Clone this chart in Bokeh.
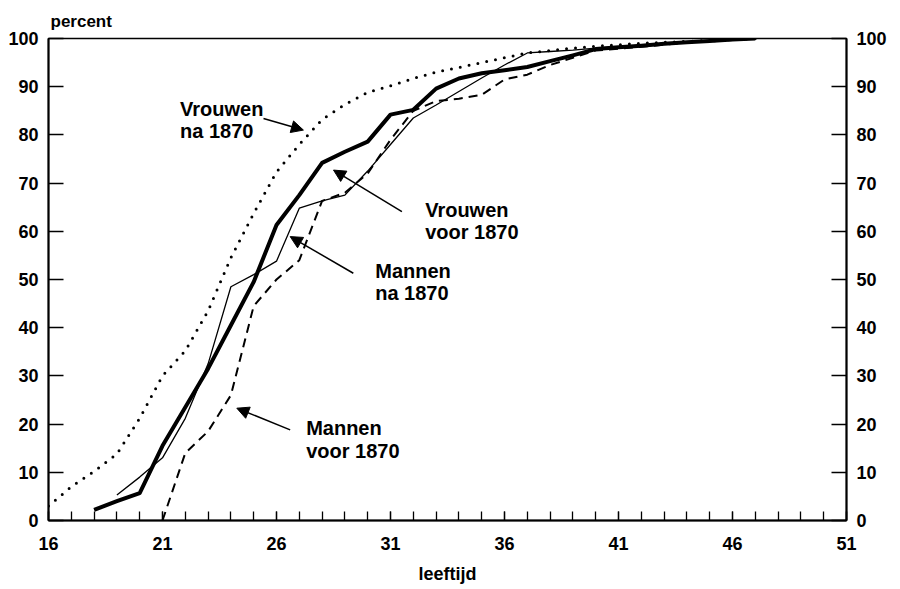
from bokeh.plotting import figure
from bokeh.models import Range1d, LinearAxis, FixedTicker, Label, Arrow, NormalHead
from bokeh.embed import file_html
from bokeh.resources import INLINE

# ---- data ----
ages_vv = [18, 19, 20, 21, 22, 23, 24, 25, 26, 27, 28, 29, 30, 31, 32, 33, 34, 35, 36, 37,
           38, 39, 40, 41, 42, 43, 44, 45, 46, 47]
vrouwen_voor = [2.2, 4.0, 5.7, 15.5, 23.5, 31.5, 40.5, 49.5, 61.3, 67.5, 74.2, 76.5, 78.6, 84.2,
                85.2, 89.6, 91.7, 92.8, 93.4, 94.1, 95.3, 96.5, 97.8, 98.2, 98.5, 98.9, 99.2,
                99.5, 99.8, 100.0]

ages_mn = [19, 20, 21, 22, 23, 24, 25, 26, 27, 28, 29, 30, 31, 32, 33, 34, 35, 36, 37, 38,
           39, 40, 41, 42, 43, 44, 45, 46, 47]
mannen_na = [5.3, 9.0, 13.0, 21.2, 32.5, 48.5, 51.0, 53.8, 64.8, 66.3, 67.5, 72.5, 78.0, 83.5,
             86.2, 89.0, 91.8, 94.5, 97.0, 97.3, 97.6, 98.0, 98.3, 98.6, 98.9, 99.2, 99.5,
             99.8, 100.0]

ages_mv = [21, 22, 23, 24, 25, 26, 27, 28, 29, 30, 31, 32, 33, 34, 35, 36, 37, 38, 39, 40,
           41, 42, 43, 44, 45, 46, 47]
mannen_voor = [0.0, 14.0, 18.5, 26.0, 44.5, 50.0, 54.0, 66.3, 68.0, 72.0, 79.0, 85.0, 87.0,
               87.5, 88.3, 91.5, 92.5, 94.5, 96.0, 97.5, 97.9, 98.3, 98.7, 99.1, 99.4, 99.7,
               100.0]

ages_vn = [16, 17, 18, 19, 20, 21, 22, 23, 24, 25, 26, 27, 28, 29, 30, 31, 32, 33, 34, 35,
           36, 37, 38, 39, 40, 41, 42, 43, 44, 45, 46, 47]
vrouwen_na = [3.0, 7.0, 10.2, 13.8, 21.2, 30.0, 35.2, 43.5, 54.5, 63.7, 72.3, 78.0, 83.2, 86.3,
              88.8, 90.2, 91.7, 93.0, 94.0, 95.0, 96.0, 97.0, 97.5, 98.0, 98.4, 98.7, 99.0,
              99.2, 99.4, 99.6, 99.8, 100.0]

x_major_ticks = [16, 21, 26, 31, 36, 41, 46, 51]
x_minor_ticks = list(range(16, 52))
y_ticks = [0, 10, 20, 30, 40, 50, 60, 70, 80, 90, 100]

# annotation texts and arrows
ann_text1 = ["Vrouwen", "Vrouwen", "Mannen", "Mannen"]
ann_text2 = ["na 1870", "voor 1870", "na 1870", "voor 1870"]
ann_tx = [21.77, 32.52, 30.33, 27.3]
ann_ty1 = [85.3, 64.4, 51.8, 19.2]
ann_ty2 = [80.8, 59.9, 47.2, 14.5]
arr_x0 = [25.43, 31.5, 29.37, 26.6]
arr_y0 = [83.4, 64.1, 51.3, 18.8]
arr_x1 = [27.18, 28.5, 26.6, 24.26]
arr_y1 = [81.0, 72.7, 58.9, 23.3]

FONT = "Liberation Sans"

p = figure(width=892, height=589, x_range=Range1d(16, 51), y_range=Range1d(0, 100),
           output_backend="svg", toolbar_location=None,
           min_border_left=48, min_border_right=46, min_border_top=38, min_border_bottom=69)
p.xgrid.visible = False
p.ygrid.visible = False
p.outline_line_color = "black"
p.outline_line_width = 1.5
p.background_fill_color = "white"
p.border_fill_color = "white"

p.title.text = "percent"
p.title.align = "left"
p.title.offset = 2
p.title.standoff = 16
p.title.text_font = FONT
p.title.text_font_style = "bold"
p.title.text_font_size = "17px"
p.title.text_color = "black"

xa = p.xaxis[0]
xa.ticker = FixedTicker(ticks=x_major_ticks, minor_ticks=x_minor_ticks)
xa.major_tick_in = 9
xa.major_tick_out = 0
xa.minor_tick_in = 9
xa.minor_tick_out = 0
xa.axis_line_width = 2
xa.major_tick_line_width = 1.3
xa.minor_tick_line_width = 1.3
xa.major_label_text_font = FONT
xa.major_label_text_font_style = "bold"
xa.major_label_text_font_size = "18px"
xa.major_label_text_color = "black"
xa.major_label_standoff = 16
xa.axis_label = "leeftijd"
xa.axis_label_text_font = FONT
xa.axis_label_text_font_style = "bold"
xa.axis_label_text_font_size = "18px"
xa.axis_label_text_color = "black"
xa.axis_label_standoff = 11

def style_y(ax, standoff):
    ax.ticker = FixedTicker(ticks=y_ticks)
    ax.major_tick_in = 15
    ax.major_tick_out = 0
    ax.minor_tick_line_color = None
    ax.axis_line_width = 2
    ax.major_tick_line_width = 1.3
    ax.major_label_text_font = FONT
    ax.major_label_text_font_style = "bold"
    ax.major_label_text_font_size = "18px"
    ax.major_label_text_color = "black"
    ax.major_label_standoff = standoff

style_y(p.yaxis[0], 10)
ry = LinearAxis()
style_y(ry, 10)
p.add_layout(ry, "right")

# series
p.line(ages_vn, vrouwen_na, line_color="black", line_width=3, line_dash="0 9", line_cap="round")
p.line(ages_mv, mannen_voor, line_color="black", line_width=2, line_dash="9 6")
p.line(ages_mn, mannen_na, line_color="black", line_width=1.3)
p.line(ages_vv, vrouwen_voor, line_color="black", line_width=4, line_join="round")

# annotations
for i in range(len(ann_text1)):
    for txt, yy in ((ann_text1[i], ann_ty1[i]), (ann_text2[i], ann_ty2[i])):
        p.add_layout(Label(x=ann_tx[i], y=yy, text=txt, text_font=FONT, text_font_style="bold",
                           text_font_size="20px", text_color="black",
                           text_baseline="middle", text_align="left"))
    p.add_layout(Arrow(end=NormalHead(size=12, fill_color="black", line_color="black"),
                       x_start=arr_x0[i], y_start=arr_y0[i], x_end=arr_x1[i], y_end=arr_y1[i],
                       line_width=1.5, line_color="black"))

open("out.html", "w").write(file_html(p, INLINE))
